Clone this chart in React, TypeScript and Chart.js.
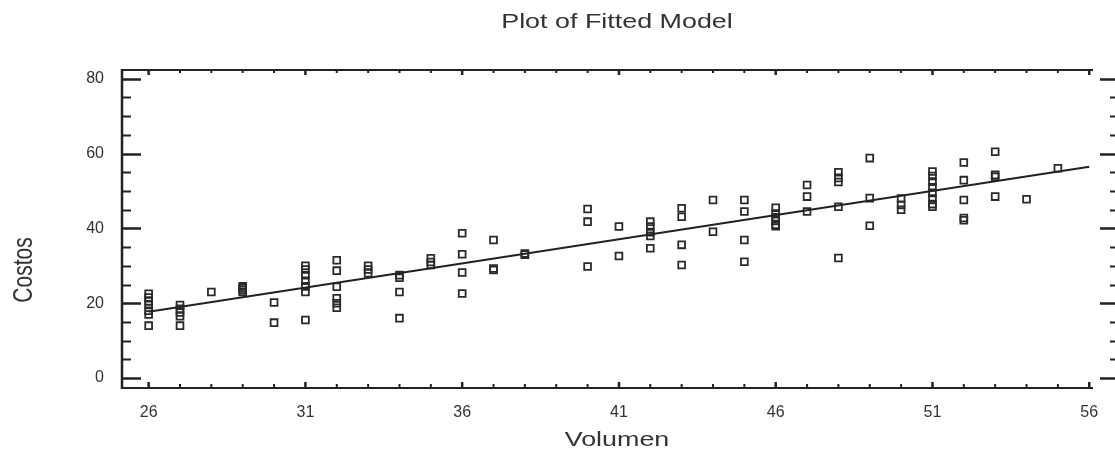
import React, { useEffect, useRef } from "react";
import { Chart, registerables } from "chart.js";

Chart.register(...registerables);

// Observations: Volumen (x) and Costos (y)
const volumen = [
  26, 26, 26, 26, 26, 26, 26,
  27, 27, 27, 27, 27,
  28,
  29, 29, 29, 29,
  30, 30,
  31, 31, 31, 31, 31, 31, 31,
  32, 32, 32, 32, 32, 32,
  33, 33, 33,
  34, 34, 34, 34,
  35, 35, 35,
  36, 36, 36, 36,
  37, 37, 37,
  38, 38,
  40, 40, 40,
  41, 41,
  42, 42, 42, 42, 42,
  43, 43, 43, 43,
  44, 44,
  45, 45, 45, 45,
  46, 46, 46, 46, 46, 46,
  47, 47, 47,
  48, 48, 48, 48, 48,
  49, 49, 49,
  50, 50, 50,
  51, 51, 51, 51, 51, 51, 51, 51,
  52, 52, 52, 52, 52,
  53, 53, 53, 53,
  54,
  55,
];
const costos = [
  22.5, 21.5, 20.5, 19.5, 18, 17, 14,
  19.5, 18.5, 17.5, 16.5, 14,
  23,
  24.5, 24, 23.5, 23,
  20.2, 14.8,
  30, 29, 27.5, 26, 24.5, 23, 15.5,
  31.5, 28.7, 24.4, 21.3, 20, 18.8,
  30, 29, 28,
  27.5, 26.8, 23, 16,
  32, 31, 30.2,
  38.7, 33.1, 28.2, 22.6,
  36.9, 29.3, 28.9,
  33.3, 33,
  45.2, 41.8, 29.8,
  40.5, 32.6,
  41.8, 40.5, 39, 38, 34.7,
  45.4, 43.1, 35.6, 30.2,
  47.6, 39.1,
  47.6, 44.5, 36.9, 31.1,
  45.5, 44, 43, 42, 41, 40.6,
  51.6, 48.5, 44.5,
  55, 53.5, 52.4, 45.8, 32.1,
  58.8, 48.1, 40.7,
  48, 46.3, 45,
  55.2, 54, 52.5, 51, 49.5, 48, 46.5, 45.8,
  57.6, 52.9, 47.6, 42.8, 42.2,
  60.5, 54.3, 53.8, 48.5,
  47.8,
  56.1,
];

// Fitted line end points
const fitX = [26, 56];
const fitY = [17.7, 56.5];

// Tick labels
const xTickValues = [26, 31, 36, 41, 46, 51, 56];
const yTickValues = [0, 20, 40, 60, 80];

const titleText = "Plot of Fitted Model";
const xTitle = "Volumen";
const yTitle = "Costos";

const FONT = "'Liberation Sans', Arial, Helvetica, sans-serif";
const INK = "#222";
const TEXT = "#333";
const STRETCH = 1.28;
const TITLE_SIZE = 21;

const framePlugin = {
  id: "framePlugin",
  afterDatasetsDraw(chart: any) {
    const { ctx, chartArea: ca, scales } = chart;
    const xs = scales.x;
    const ys = scales.y;
    ctx.save();
    ctx.strokeStyle = INK;
    // frame: left, top, bottom
    ctx.lineWidth = 2.5;
    ctx.beginPath();
    ctx.moveTo(ca.left, ca.top - 1);
    ctx.lineTo(ca.left, ca.bottom + 1);
    ctx.stroke();
    ctx.lineWidth = 2;
    ctx.beginPath();
    ctx.moveTo(ca.left, ca.top);
    ctx.lineTo(ca.right, ca.top);
    ctx.moveTo(ca.left, ca.bottom);
    ctx.lineTo(ca.right, ca.bottom);
    ctx.stroke();
    // y ticks left & right (inward)
    const rightAxis = ca.right + 26;
    for (let v = 0; v <= 80; v += 5) {
      const y = Math.round(ys.getPixelForValue(v)) + 0.5;
      const major = v % 20 === 0;
      const len = major ? 19 : 9;
      ctx.lineWidth = major ? 2.5 : 2;
      ctx.beginPath();
      ctx.moveTo(ca.left, y);
      ctx.lineTo(ca.left + len, y);
      ctx.moveTo(rightAxis, y);
      ctx.lineTo(rightAxis - len, y);
      ctx.stroke();
    }
    // x ticks top & bottom (inward)
    for (let v = 26; v <= 56; v += 1) {
      const x = xs.getPixelForValue(v);
      const major = (v - 26) % 5 === 0;
      ctx.lineWidth = major ? 2.5 : 2;
      const lb = major ? 6 : 4;
      const lt = major ? 5 : 3;
      ctx.beginPath();
      ctx.moveTo(x, ca.bottom);
      ctx.lineTo(x, ca.bottom - lb);
      ctx.moveTo(x, ca.top);
      ctx.lineTo(x, ca.top + lt);
      ctx.stroke();
    }
    // titles (slightly stretched horizontally like the reference)
    ctx.fillStyle = TEXT;
    ctx.font = `${TITLE_SIZE}px ${FONT}`;
    ctx.textAlign = "center";
    ctx.textBaseline = "middle";
    ctx.save();
    ctx.translate(617, 22);
    ctx.scale(STRETCH, 1);
    ctx.fillText(titleText, 0, 0);
    ctx.restore();
    ctx.save();
    ctx.translate(617, 440);
    ctx.scale(STRETCH, 1);
    ctx.fillText(xTitle, 0, 0);
    ctx.restore();
    ctx.save();
    ctx.translate(25, 270);
    ctx.scale(STRETCH, 1);
    ctx.rotate(-Math.PI / 2);
    ctx.fillText(yTitle, 0, 0);
    ctx.restore();
    ctx.restore();
  },
};

export default function App() {
  const canvasRef = useRef<HTMLCanvasElement | null>(null);

  useEffect(() => {
    const canvas = canvasRef.current;
    if (!canvas) return;
    const points = volumen.map((x, i) => ({ x, y: costos[i] }));
    const fit = fitX.map((x, i) => ({ x, y: fitY[i] }));
    const chart = new Chart(canvas, {
      type: "scatter",
      data: {
        datasets: [
          {
            type: "line",
            label: "Fitted",
            data: fit,
            borderColor: INK,
            borderWidth: 2,
            pointRadius: 0,
            fill: false,
            order: 1,
          } as any,
          {
            label: "Costos",
            data: points,
            pointStyle: "rect",
            pointRadius: 4.8,
            pointBorderWidth: 1.8,
            borderColor: "#2a2a2a",
            backgroundColor: "rgba(255,255,255,0)",
            order: 2,
          } as any,
        ],
      },
      options: {
        animation: false,
        responsive: false,
        devicePixelRatio: 1,
        layout: { padding: { top: 70, right: 22, left: 0, bottom: 0 } },
        plugins: {
          legend: { display: false },
          title: { display: false },
          tooltip: { enabled: false },
        },
        scales: {
          x: {
            type: "linear",
            min: 25.15,
            max: 56.12,
            grid: { display: false, drawTicks: false },
            border: { display: false },
            ticks: {
              font: { size: 16, family: FONT },
              color: TEXT,
              padding: 15,
              maxRotation: 0,
            },
            afterBuildTicks: (s: any) => {
              s.ticks = xTickValues.map((v) => ({ value: v }));
            },
            afterFit: (s: any) => {
              s.height = 74;
            },
          },
          y: {
            type: "linear",
            min: -2.67,
            max: 82.35,
            grid: { display: false, drawTicks: false },
            border: { display: false },
            ticks: {
              font: { size: 16, family: FONT },
              color: TEXT,
              padding: 18,
            },
            afterBuildTicks: (s: any) => {
              s.ticks = yTickValues.map((v) => ({ value: v }));
            },
            afterFit: (s: any) => {
              s.width = 122;
            },
          },
        },
      },
      plugins: [framePlugin],
    });
    return () => chart.destroy();
  }, []);

  return (
    <div style={{ position: "absolute", left: 0, top: 0, width: 1115, height: 462, background: "#fff" }}>
      <canvas ref={canvasRef} width={1115} height={462} />
    </div>
  );
}
